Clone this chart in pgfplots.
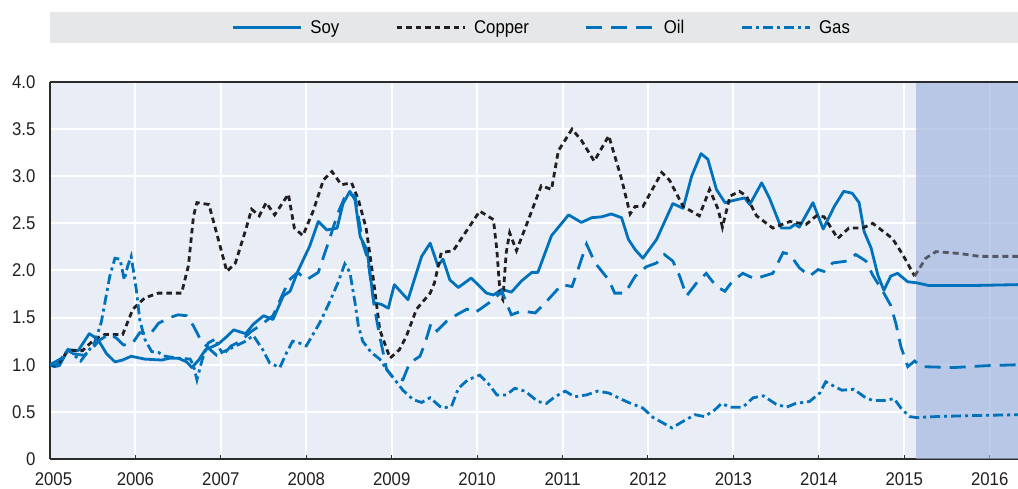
\documentclass[border=0pt]{standalone}
\usepackage{pgfplots}
\pgfplotsset{compat=1.18}
\usepackage{fontspec}
\setmainfont{Liberation Sans}[FakeStretch=0.91]
\definecolor{oecdblue}{HTML}{0072BC}
\definecolor{copperc}{HTML}{231F20}
\definecolor{copperf}{HTML}{545863}
\definecolor{plotbg}{HTML}{E9EDF6}
\definecolor{shadec}{HTML}{9EB3DC}
\definecolor{legbg}{HTML}{E6E7E8}
\definecolor{axisc}{HTML}{2B2B2B}
\begin{document}
\begin{tikzpicture}
\useasboundingbox (-50bp,-30bp) rectangle (968bp,459bp);
\fill[legbg] (0bp,416bp) rectangle (968bp,447bp);
\begin{axis}[
  at={(0,0)}, anchor=south west,
  scale only axis, width=968bp, height=377bp,
  xmin=2005, xmax=2016.33, ymin=0, ymax=4,
  axis background/.style={fill=plotbg},
  axis x line*=bottom, axis y line*=left,
  axis line style={-, axisc, line width=1.6bp},
  xtick={2005,...,2016},
  xticklabels={{\hspace{7bp}2005},2006,2007,2008,2009,2010,2011,2012,2013,2014,2015,2016},
  ytick={0,0.5,1,1.5,2,2.5,3,3.5,4},
  yticklabels={0,0.5,1.0,1.5,2.0,2.5,3.0,3.5,4.0},
  tick label style={font=\fontsize{18.5}{21}\selectfont, text=copperc},
  xticklabel style={yshift=-10bp},
  yticklabel style={xshift=-11bp},
  tick align=inside, major tick length=4bp,
  xtick style={draw=axisc, line width=1bp},
  ytick style={draw=none},
  xmajorgrids, ymajorgrids,
  major grid style={white, line width=2bp},
  legend columns=4,
  legend style={at={(0.508,1.145)}, anchor=center, draw=none, fill=none,
    font=\fontsize{18.5}{21}\selectfont,
    /tikz/every even column/.append style={column sep=54bp}},
  legend image code/.code={\draw[#1] (0bp,0bp) -- (68bp,0bp); \path (74bp,0bp);},
]
\fill[shadec, fill opacity=0.65] (axis cs:2015.14,0) rectangle (axis cs:2016.33,4);

\addplot[oecdblue, line width=2.8bp, line join=round] coordinates {
(2005.00,1.00) (2005.05,0.98) (2005.11,0.99) (2005.21,1.16) (2005.33,1.15)
(2005.46,1.33) (2005.56,1.27) (2005.66,1.12) (2005.76,1.03) (2005.85,1.05)
(2005.95,1.09) (2006.11,1.06) (2006.31,1.05) (2006.40,1.07) (2006.50,1.07)
(2006.60,1.03) (2006.66,0.97) (2006.74,1.05) (2006.82,1.16) (2006.97,1.22)
(2007.07,1.30) (2007.15,1.37) (2007.29,1.33) (2007.38,1.43) (2007.50,1.52)
(2007.61,1.48) (2007.73,1.73) (2007.81,1.78) (2007.90,1.99) (2008.04,2.26)
(2008.14,2.52) (2008.24,2.43) (2008.36,2.45) (2008.43,2.71) (2008.51,2.84)
(2008.57,2.75) (2008.63,2.36) (2008.71,2.22) (2008.79,1.66) (2008.88,1.64)
(2008.96,1.60) (2009.03,1.85) (2009.19,1.69) (2009.35,2.15) (2009.45,2.29)
(2009.54,2.05) (2009.60,2.12) (2009.68,1.90) (2009.78,1.82) (2009.93,1.92)
(2010.11,1.76) (2010.19,1.74) (2010.29,1.80) (2010.40,1.77) (2010.52,1.89)
(2010.64,1.98) (2010.71,1.98) (2010.87,2.37) (2011.07,2.59) (2011.22,2.51)
(2011.34,2.56) (2011.46,2.57) (2011.57,2.60) (2011.69,2.56) (2011.77,2.33)
(2011.85,2.22) (2011.94,2.13) (2012.10,2.33) (2012.29,2.71) (2012.41,2.66)
(2012.51,3.00) (2012.62,3.24) (2012.70,3.18) (2012.80,2.86) (2012.90,2.72)
(2013.03,2.75) (2013.13,2.77) (2013.19,2.70) (2013.33,2.93) (2013.42,2.77)
(2013.56,2.45) (2013.66,2.45) (2013.72,2.49) (2013.77,2.46) (2013.93,2.72)
(2014.05,2.44) (2014.18,2.68) (2014.29,2.84) (2014.39,2.82) (2014.47,2.72)
(2014.53,2.41) (2014.61,2.24) (2014.69,1.95) (2014.76,1.79) (2014.84,1.94)
(2014.92,1.97) (2015.04,1.88) (2015.14,1.87) (2015.29,1.84) (2015.76,1.84)
(2016.33,1.85)
};
\addlegendentry{Soy}

\addplot[copperc, line width=2.8bp, dash pattern=on 5.5bp off 4bp] coordinates {
(2005.00,1.00) (2005.08,0.99) (2005.21,1.15) (2005.38,1.15) (2005.52,1.27)
(2005.64,1.32) (2005.85,1.32) (2005.97,1.59) (2006.11,1.71) (2006.27,1.76)
(2006.54,1.76) (2006.62,2.05) (2006.68,2.58) (2006.72,2.72) (2006.86,2.70)
(2006.97,2.33) (2007.07,1.99) (2007.17,2.08) (2007.29,2.43) (2007.36,2.65)
(2007.45,2.58) (2007.53,2.72) (2007.63,2.59) (2007.79,2.81) (2007.86,2.45)
(2007.96,2.37) (2008.08,2.63) (2008.20,2.96) (2008.30,3.05) (2008.41,2.91)
(2008.53,2.93) (2008.61,2.75) (2008.70,2.45) (2008.78,1.94) (2008.86,1.37)
(2008.98,1.07) (2009.09,1.16) (2009.17,1.30) (2009.29,1.59) (2009.45,1.76)
(2009.50,1.87) (2009.58,2.19) (2009.72,2.21) (2009.86,2.40) (2010.03,2.63)
(2010.19,2.54) (2010.23,2.22) (2010.27,1.73) (2010.30,1.69) (2010.34,2.19)
(2010.38,2.40) (2010.46,2.21) (2010.60,2.54) (2010.75,2.90) (2010.87,2.86)
(2010.95,3.27) (2011.11,3.50) (2011.22,3.38) (2011.37,3.16) (2011.54,3.43)
(2011.69,2.97) (2011.79,2.60) (2011.85,2.68) (2011.94,2.68) (2012.16,3.04)
(2012.25,2.96) (2012.41,2.68) (2012.60,2.58) (2012.72,2.86) (2012.82,2.65)
(2012.87,2.46) (2012.96,2.79) (2013.07,2.84) (2013.15,2.79) (2013.27,2.58)
(2013.46,2.45) (2013.66,2.52) (2013.85,2.49) (2013.97,2.58) (2014.06,2.57)
(2014.22,2.34) (2014.35,2.45) (2014.51,2.45) (2014.63,2.50) (2014.86,2.34)
(2014.98,2.17) (2015.12,1.94)
};
\addlegendentry{Copper}

\addplot[copperf, line width=2.8bp, dash pattern=on 6bp off 4bp, forget plot] coordinates {
(2015.12,1.94) (2015.25,2.13) (2015.37,2.20) (2015.65,2.18) (2015.88,2.15) (2016.33,2.15)
};

\addplot[oecdblue, line width=2.8bp, dash pattern=on 16bp off 9bp] coordinates {
(2005.00,1.00) (2005.10,1.05) (2005.25,1.12) (2005.40,1.10) (2005.50,1.18)
(2005.58,1.26) (2005.70,1.33) (2005.78,1.28) (2005.86,1.21) (2005.96,1.22)
(2006.05,1.34) (2006.17,1.32) (2006.27,1.44) (2006.40,1.50) (2006.50,1.53)
(2006.60,1.52) (2006.68,1.41) (2006.76,1.27) (2006.85,1.18) (2006.95,1.10)
(2007.05,1.13) (2007.12,1.20) (2007.23,1.25) (2007.35,1.35) (2007.45,1.41)
(2007.61,1.52) (2007.80,1.90) (2007.90,1.98) (2008.00,1.90) (2008.14,1.98)
(2008.27,2.33) (2008.37,2.61) (2008.47,2.82) (2008.57,2.79) (2008.66,2.29)
(2008.72,2.12) (2008.80,1.59) (2008.86,1.30) (2008.94,0.95) (2009.02,0.86)
(2009.13,0.84) (2009.21,1.02) (2009.33,1.09) (2009.39,1.23) (2009.46,1.44)
(2009.53,1.36) (2009.64,1.46) (2009.76,1.53) (2009.88,1.59) (2009.97,1.55)
(2010.05,1.60) (2010.19,1.69) (2010.29,1.78) (2010.34,1.66) (2010.40,1.53)
(2010.52,1.57) (2010.68,1.55) (2010.83,1.69) (2010.99,1.85) (2011.11,1.83)
(2011.18,2.01) (2011.28,2.28) (2011.38,2.08) (2011.54,1.90) (2011.61,1.76)
(2011.73,1.76) (2011.85,1.94) (2011.98,2.04) (2012.10,2.08) (2012.19,2.17)
(2012.29,2.10) (2012.37,1.94) (2012.45,1.73) (2012.57,1.87) (2012.68,1.97)
(2012.80,1.83) (2012.90,1.78) (2012.99,1.89) (2013.11,1.97) (2013.25,1.91)
(2013.35,1.94) (2013.46,1.97) (2013.58,2.19) (2013.66,2.17) (2013.77,2.03)
(2013.89,1.94) (2013.99,2.01) (2014.06,1.99) (2014.16,2.08) (2014.33,2.10)
(2014.43,2.17) (2014.55,2.10) (2014.63,1.95) (2014.76,1.76) (2014.84,1.63)
(2014.90,1.44) (2014.96,1.19) (2015.04,0.98) (2015.12,1.04) (2015.20,0.98)
(2015.57,0.97) (2015.96,0.99) (2016.33,1.00)
};
\addlegendentry{Oil}

\addplot[oecdblue, line width=2.8bp, dash pattern=on 10bp off 4bp on 3bp off 4bp] coordinates {
(2005.00,1.00) (2005.08,1.00) (2005.21,1.16) (2005.36,1.04) (2005.52,1.23)
(2005.60,1.45) (2005.70,1.94) (2005.76,2.13) (2005.82,2.12) (2005.87,1.90)
(2005.91,2.05) (2005.95,2.15) (2006.01,1.80) (2006.05,1.48) (2006.11,1.27)
(2006.19,1.14) (2006.27,1.13) (2006.35,1.09) (2006.50,1.07) (2006.64,1.06)
(2006.68,0.99) (2006.72,0.84) (2006.78,1.05) (2006.85,1.23) (2006.93,1.27)
(2007.01,1.13) (2007.13,1.18) (2007.29,1.25) (2007.38,1.31) (2007.49,1.16)
(2007.57,1.02) (2007.69,0.97) (2007.77,1.13) (2007.84,1.25) (2007.92,1.23)
(2008.00,1.20) (2008.16,1.45) (2008.27,1.66) (2008.37,1.87) (2008.45,2.07)
(2008.51,1.98) (2008.57,1.66) (2008.61,1.41) (2008.66,1.25) (2008.76,1.13)
(2008.86,1.06) (2008.94,0.95) (2009.02,0.86) (2009.13,0.73) (2009.25,0.63)
(2009.35,0.60) (2009.45,0.65) (2009.56,0.56) (2009.60,0.54) (2009.70,0.56)
(2009.78,0.75) (2009.89,0.84) (2010.03,0.89) (2010.13,0.80) (2010.23,0.68)
(2010.34,0.68) (2010.44,0.75) (2010.56,0.72) (2010.71,0.61) (2010.81,0.59)
(2010.91,0.66) (2011.03,0.72) (2011.14,0.66) (2011.28,0.68) (2011.41,0.72)
(2011.54,0.70) (2011.65,0.65) (2011.77,0.60) (2011.94,0.54) (2012.06,0.44)
(2012.18,0.38) (2012.28,0.33) (2012.41,0.40) (2012.55,0.47) (2012.66,0.45)
(2012.78,0.52) (2012.86,0.59) (2012.96,0.55) (2013.11,0.55) (2013.23,0.65)
(2013.35,0.67) (2013.50,0.58) (2013.62,0.55) (2013.73,0.59) (2013.89,0.61)
(2014.01,0.70) (2014.08,0.82) (2014.18,0.77) (2014.27,0.73) (2014.41,0.74)
(2014.53,0.66) (2014.63,0.62) (2014.76,0.62) (2014.88,0.64) (2014.96,0.54)
(2015.06,0.45) (2015.14,0.44) (2015.37,0.45) (2015.76,0.46) (2016.33,0.47)
};
\addlegendentry{Gas}
\end{axis}
\draw[axisc, line width=1.6bp] (0bp,377bp) -- (968bp,377bp);
\end{tikzpicture}
\end{document}
